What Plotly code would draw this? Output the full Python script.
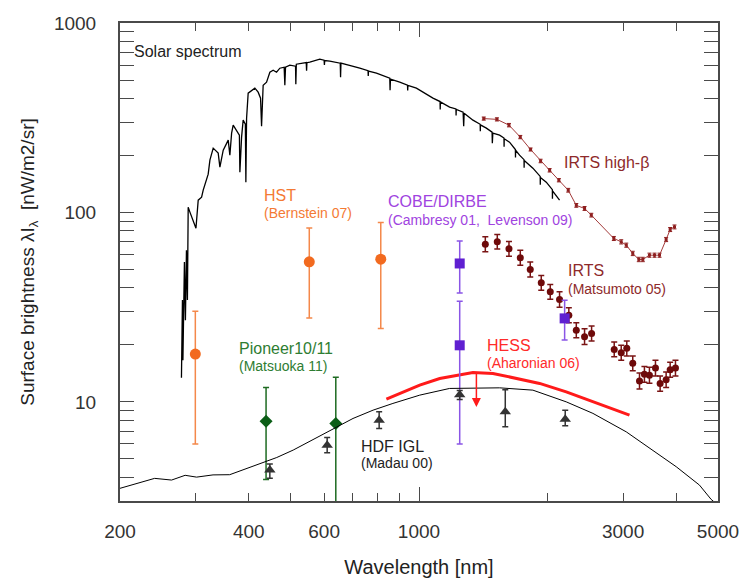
import numpy as np
import plotly.graph_objects as go

# ---------------- data ----------------
# Solar spectrum (wavelength nm, brightness nW/m2/sr)
solar_wl = [278.4, 279.9, 280.6, 282.9, 284.4, 286.0, 287.5, 288.7, 291.4, 296.6,
            301.0, 304.7, 310.3, 313.0, 318.8, 321.5, 324.5, 330.3, 339.3, 342.4,
            348.6, 358.1, 361.3, 364.7, 367.8, 374.6, 380.3, 381.3, 384.8, 388.1,
            392.7, 393.8, 395.3, 398.7, 406.1, 413.3, 420.7, 426.2, 428.5, 432.2,
            440.2, 448.1, 456.1, 464.5, 472.8, 483.9, 485.7, 487.5, 498.9, 514.5,
            515.3, 516.7, 535.1, 545, 546, 547, 555.6, 586.2, 600, 601, 602, 618.6,
            654.5, 655.6, 657.0, 727.1, 760, 761, 762,
            795.3, 854.4, 855.8, 857.6, 901.5, 940, 941, 942, 986.1, 1078,
            1120, 1121, 1122, 1179, 1220, 1221, 1222, 1268, 1272,
            1275, 1337, 1390, 1391, 1392, 1437, 1482, 1484, 1488, 1543,
            1580, 1581, 1582, 1628, 1680, 1681, 1682, 1718, 1760, 1761, 1762,
            1846, 1920, 1921, 1922, 1984, 2050, 2051, 2052, 2131]
solar_val = [13.4, 34.5, 16.6, 54.7, 27.0, 63.2, 34.5, 106.6, 100.4, 88.9,
             82.6, 116.1, 120.4, 131.2, 148.1, 159.3, 188.8, 218.5, 205.6, 173.4,
             213.2, 240.8, 200.6, 262.1, 288.9, 271.8, 255.8, 163.2, 249.7, 307.0,
             292.4, 144.5, 314.6, 426.2, 442.0, 452.9, 431.4, 401.1, 285.4, 469.6,
             487.1, 549.9, 563.4, 549.9, 577.3, 584.4, 469.6, 584.4, 598.8, 591.5,
             475.3, 606.1, 613.5, 618, 560, 617, 621.0, 644.2, 636, 600, 634, 628.6,
             613.5, 517.6, 613.5, 577.3, 560, 525, 558,
             543.3, 511.3, 442.0, 505.1, 487.1, 470, 440, 468, 452.9, 401.1,
             385, 350, 383, 359.5, 352, 325, 350, 338.3, 285.4,
             334.2, 307.0, 292, 268, 290, 278.6, 265.3, 232.1, 262.1, 255.8,
             247, 222, 245, 234.9, 215, 195, 213, 200.6, 190, 172, 188,
             171.3, 155, 140, 153, 144.5, 132, 118, 130, 116.1]

# IRTS high-beta
irts_hb_wl = [1417, 1521, 1623, 1725, 1823, 1924, 2020, 2123, 2233, 2332, 2438, 2528,
              2854, 2970, 3052, 3160, 3265, 3336, 3457, 3553, 3650, 3782, 3865, 3956]
irts_hb_val = [313, 310, 289, 250, 215, 187, 167, 148, 131, 109, 105, 96.8,
               72.9, 70.0, 67.2, 60.8, 56.5, 56.5, 59.5, 59.5, 59.5, 72.0, 81.3, 83.9]
irts_hb_err = [6, 6, 6, 5, 4, 4, 3.5, 3, 3, 2.5, 2.5, 2.2,
               1.8, 1.8, 1.7, 1.6, 1.5, 1.5, 1.5, 1.5, 1.5, 1.8, 2.0, 2.0]

# IRTS (Matsumoto 05)
irts_wl = [1429, 1524, 1623, 1725, 1820, 1931, 2027, 2131, 2240, 2332, 2438, 2532,
           2860, 2970, 3060, 3160, 3277, 3365, 3457, 3571, 3662, 3782, 3865, 3977]
irts_val = [68.0, 70.0, 64.3, 57.6, 50.0, 42.5, 38.1, 34.7, 28.7, 23.9, 22.1, 23.0,
            18.9, 18.2, 19.2, 16.0, 12.9, 14.0, 13.85, 15.1, 12.5, 13.1, 14.8, 15.1]
irts_ep = [6.5, 6.5, 6.0, 5.5, 4.7, 4.0, 3.6, 3.4, 2.7, 2.3, 2.2, 2.2,
           1.8, 1.7, 1.8, 1.5, 1.3, 1.4, 1.4, 1.5, 1.2, 1.3, 1.4, 1.5]
irts_em = [5.9, 5.9, 5.5, 5.0, 4.3, 3.7, 3.3, 3.1, 2.5, 2.1, 2.0, 2.0,
           1.6, 1.6, 1.7, 1.4, 1.2, 1.3, 1.3, 1.4, 1.1, 1.2, 1.3, 1.4]

# HDF IGL model curve (Madau 00)
hdf_curve_wl = [200, 241, 264, 284, 302, 330, 361, 399, 440, 465, 508, 566, 641, 701,
                781, 869, 1004, 1179, 1543, 1846, 2209, 2550, 3052, 3520, 3993, 4525, 4818, 5000]
hdf_curve_val = [3.50, 3.95, 3.87, 4.10, 4.01, 4.12, 4.13, 4.49, 4.87, 5.09, 5.57, 6.34, 7.39, 8.18,
                 9.05, 9.82, 10.86, 11.78, 11.87, 11.54, 10.01, 8.70, 6.95, 5.57, 4.55, 3.64, 3.06, 2.85]

# HDF IGL points
hdf_wl = [448, 610, 807, 1245, 1591, 2197]
hdf_val = [4.37, 5.9, 8.0, 10.9, 8.87, 8.1]
hdf_ep = [0.33, 0.6, 0.87, 0.6, 2.73, 0.95]
hdf_em = [0.42, 0.5, 0.76, 0.6, 1.48, 0.62]

# HESS upper limit curve (Aharonian 06)
hess_wl = [839, 901, 1004, 1118, 1245, 1337, 1489, 1688, 1914, 2209, 2550, 2838, 3105]
hess_val = [10.35, 11.09, 12.27, 13.30, 13.97, 14.31, 14.14, 13.30, 12.52, 11.31, 10.01, 9.13, 8.51]
hess_arrow_wl = 1362
hess_arrow_from = 14.3
hess_arrow_to = 9.4

# HST (Bernstein 07)
hst_wl = [300, 554, 814]
hst_val = [17.9, 54.9, 56.7]
hst_ep = [12.2, 28.0, 31.8]
hst_em = [11.9, 27.2, 32.3]

# Pioneer 10/11 (Matsuoka 11)
pio_wl = [439, 639]
pio_val = [7.9, 7.7]
pio_ep = [4.0, 5.8]
pio_em = [4.0, 5.5]

# COBE/DIRBE (Cambresy 01, Levenson 09)
cobe_wl = [1245, 1245, 2190]
cobe_val = [53.8, 19.9, 27.6]
cobe_ep = [17.0, 14.1, 6.8]
cobe_em = [16.2, 13.9, 6.4]

# axes
x_range = [200, 5000]
y_range = [3, 1000]
x_tickvals = [200, 400, 600, 1000, 3000, 5000]
x_ticktext = ["200", "400", "600", "1000", "3000", "5000"]
x_minor = [300, 500, 700, 800, 900, 2000, 4000]
x_long = [1000]
y_tickvals = [10, 100, 1000]
y_ticktext = ["10", "100", "1000"]
y_minor = [3, 4, 5, 6, 7, 8, 9, 20, 30, 40, 50, 60, 70, 80, 90,
           200, 300, 400, 500, 600, 700, 800, 900]

# ---------------- figure ----------------
FONT = "Liberation Sans, Arial, sans-serif"
fig = go.Figure()

fig.add_trace(go.Scatter(x=solar_wl, y=solar_val, mode="lines",
                         line=dict(color="black", width=1.3), hoverinfo="skip"))

fig.add_trace(go.Scatter(x=irts_hb_wl, y=irts_hb_val, mode="lines+markers",
                         line=dict(color="#A33A3A", width=1),
                         marker=dict(symbol="square", size=3, color="#8E1F1F"),
                         error_y=dict(type="data", array=irts_hb_err, color="#8E1F1F",
                                      thickness=1, width=2),
                         hoverinfo="skip"))

fig.add_trace(go.Scatter(x=hdf_curve_wl, y=hdf_curve_val, mode="lines", xaxis="x2",
                         line=dict(color="black", width=1), hoverinfo="skip"))

fig.add_trace(go.Scatter(x=hess_wl, y=hess_val, mode="lines",
                         line=dict(color="#FF1A1A", width=3), hoverinfo="skip"))

fig.add_trace(go.Scatter(x=hst_wl, y=hst_val, mode="markers",
                         marker=dict(symbol="circle", size=11, color="#F26A1F"),
                         error_y=dict(type="data", symmetric=False, array=hst_ep, arrayminus=hst_em,
                                      color="#F4884A", thickness=1.5, width=3),
                         hoverinfo="skip"))

fig.add_trace(go.Scatter(x=pio_wl, y=pio_val, mode="markers",
                         marker=dict(symbol="diamond", size=10, color="#0B5E16"),
                         error_y=dict(type="data", symmetric=False, array=pio_ep, arrayminus=pio_em,
                                      color="#1E6B22", thickness=1.5, width=3),
                         hoverinfo="skip"))

fig.add_trace(go.Scatter(x=irts_wl, y=irts_val, mode="markers",
                         marker=dict(symbol="circle", size=7, color="#6E0A0A"),
                         error_y=dict(type="data", symmetric=False, array=irts_ep, arrayminus=irts_em,
                                      color="#7A1414", thickness=1.5, width=3),
                         hoverinfo="skip"))

fig.add_trace(go.Scatter(x=cobe_wl, y=cobe_val, mode="markers",
                         marker=dict(symbol="square", size=10, color="#5F1FD1"),
                         error_y=dict(type="data", symmetric=False, array=cobe_ep, arrayminus=cobe_em,
                                      color="#8A55E6", thickness=1.5, width=3),
                         hoverinfo="skip"))

fig.add_trace(go.Scatter(x=hdf_wl, y=hdf_val, mode="markers",
                         marker=dict(symbol="triangle-up", size=10, color="#333333"),
                         error_y=dict(type="data", symmetric=False, array=hdf_ep, arrayminus=hdf_em,
                                      color="#333333", thickness=1.5, width=3),
                         hoverinfo="skip"))

# HESS upper-limit arrow
fig.add_annotation(x=np.log10(hess_arrow_wl), y=np.log10(hess_arrow_to),
                   ax=np.log10(hess_arrow_wl), ay=np.log10(hess_arrow_from),
                   xref="x", yref="y", axref="x", ayref="y",
                   text="", showarrow=True, arrowhead=2, arrowsize=1.2,
                   arrowwidth=1.5, arrowcolor="#FF1A1A")

# labels
def label(txt, x, y, size, color):
    fig.add_annotation(text=txt, x=x, y=y, xref="paper", yref="paper",
                       xanchor="left", yanchor="middle", showarrow=False,
                       font=dict(family=FONT, size=size, color=color))

MAIN, SUB = 16, 14
label("Solar spectrum", 0.020, 0.941, MAIN, "#222222")
label("HST", 0.237, 0.639, MAIN, "#F47A34")
label("(Bernstein 07)", 0.237, 0.6015, SUB, "#F47A34")
label("COBE/DIRBE", 0.444, 0.6266, MAIN, "#A043E0")
label("(Cambresy 01,  Levenson 09)", 0.444, 0.5889, SUB, "#A043E0")
label("IRTS high-β", 0.739, 0.7092, MAIN, "#8E2A2A")
label("IRTS", 0.745, 0.4812, MAIN, "#8E2A2A")
label("(Matsumoto 05)", 0.745, 0.4435, SUB, "#8E2A2A")
label("HESS", 0.611, 0.3243, MAIN, "#FF2A2A")
label("(Aharonian 06)", 0.611, 0.2897, SUB, "#FF2A2A")
label("Pioneer10/11", 0.196, 0.319, MAIN, "#2E7D32")
label("(Matsuoka 11)", 0.196, 0.2824, SUB, "#2E7D32")
label("HDF IGL", 0.400, 0.114, MAIN, "#222222")
label("(Madau 00)", 0.400, 0.0795, SUB, "#222222")

AX = "#4a4a4a"
fig.update_layout(
    width=739, height=585,
    margin=dict(l=120, r=21, t=23, b=84, autoexpand=False),
    paper_bgcolor="white", plot_bgcolor="white",
    showlegend=False,
    font=dict(family=FONT, color="#333333"),
    xaxis=dict(type="log", range=[np.log10(x_range[0]), np.log10(x_range[1])],
               tickmode="array", tickvals=x_tickvals, ticktext=x_ticktext,
               ticks="inside", ticklen=8, tickwidth=1.3, tickcolor=AX,
               showline=True, linecolor=AX, linewidth=2, mirror="allticks",
               showgrid=False, zeroline=False, automargin=False,
               tickfont=dict(family=FONT, size=19, color="#333333"),
               ticklabelstandoff=12, ticklabeloverflow="allow",
               title=dict(text="Wavelength [nm]", font=dict(family=FONT, size=20, color="#222222"),
                          standoff=19),
               minor=dict(tickmode="array", tickvals=x_minor, ticks="inside", ticklen=8,
                          tickwidth=1.3, tickcolor=AX, showgrid=False)),
    xaxis2=dict(type="log", range=[np.log10(x_range[0]), np.log10(x_range[1])],
                overlaying="x", anchor="y", side="bottom", automargin=False,
                tickmode="array", tickvals=x_long, ticks="inside", ticklen=14,
                tickwidth=1.3, tickcolor=AX, showticklabels=False, mirror="ticks",
                showline=False, showgrid=False, zeroline=False),
    yaxis=dict(type="log", range=[np.log10(y_range[0]), np.log10(y_range[1])],
               tickmode="array", tickvals=y_tickvals, ticktext=y_ticktext,
               ticks="inside", ticklen=14, tickwidth=1.3, tickcolor=AX,
               showline=True, linecolor=AX, linewidth=2, mirror="allticks",
               showgrid=False, zeroline=False, automargin=False,
               tickfont=dict(family=FONT, size=19, color="#333333"),
               ticklabelstandoff=18, ticklabeloverflow="allow",
               title=dict(text="Surface brightness λI<sub>λ</sub>  [nW/m2/sr]",
                          font=dict(family=FONT, size=19, color="#222222"), standoff=14),
               minor=dict(tickmode="array", tickvals=y_minor, ticks="inside", ticklen=8,
                          tickwidth=1.3, tickcolor=AX, showgrid=False)),
)

fig.write_html("out.html")
